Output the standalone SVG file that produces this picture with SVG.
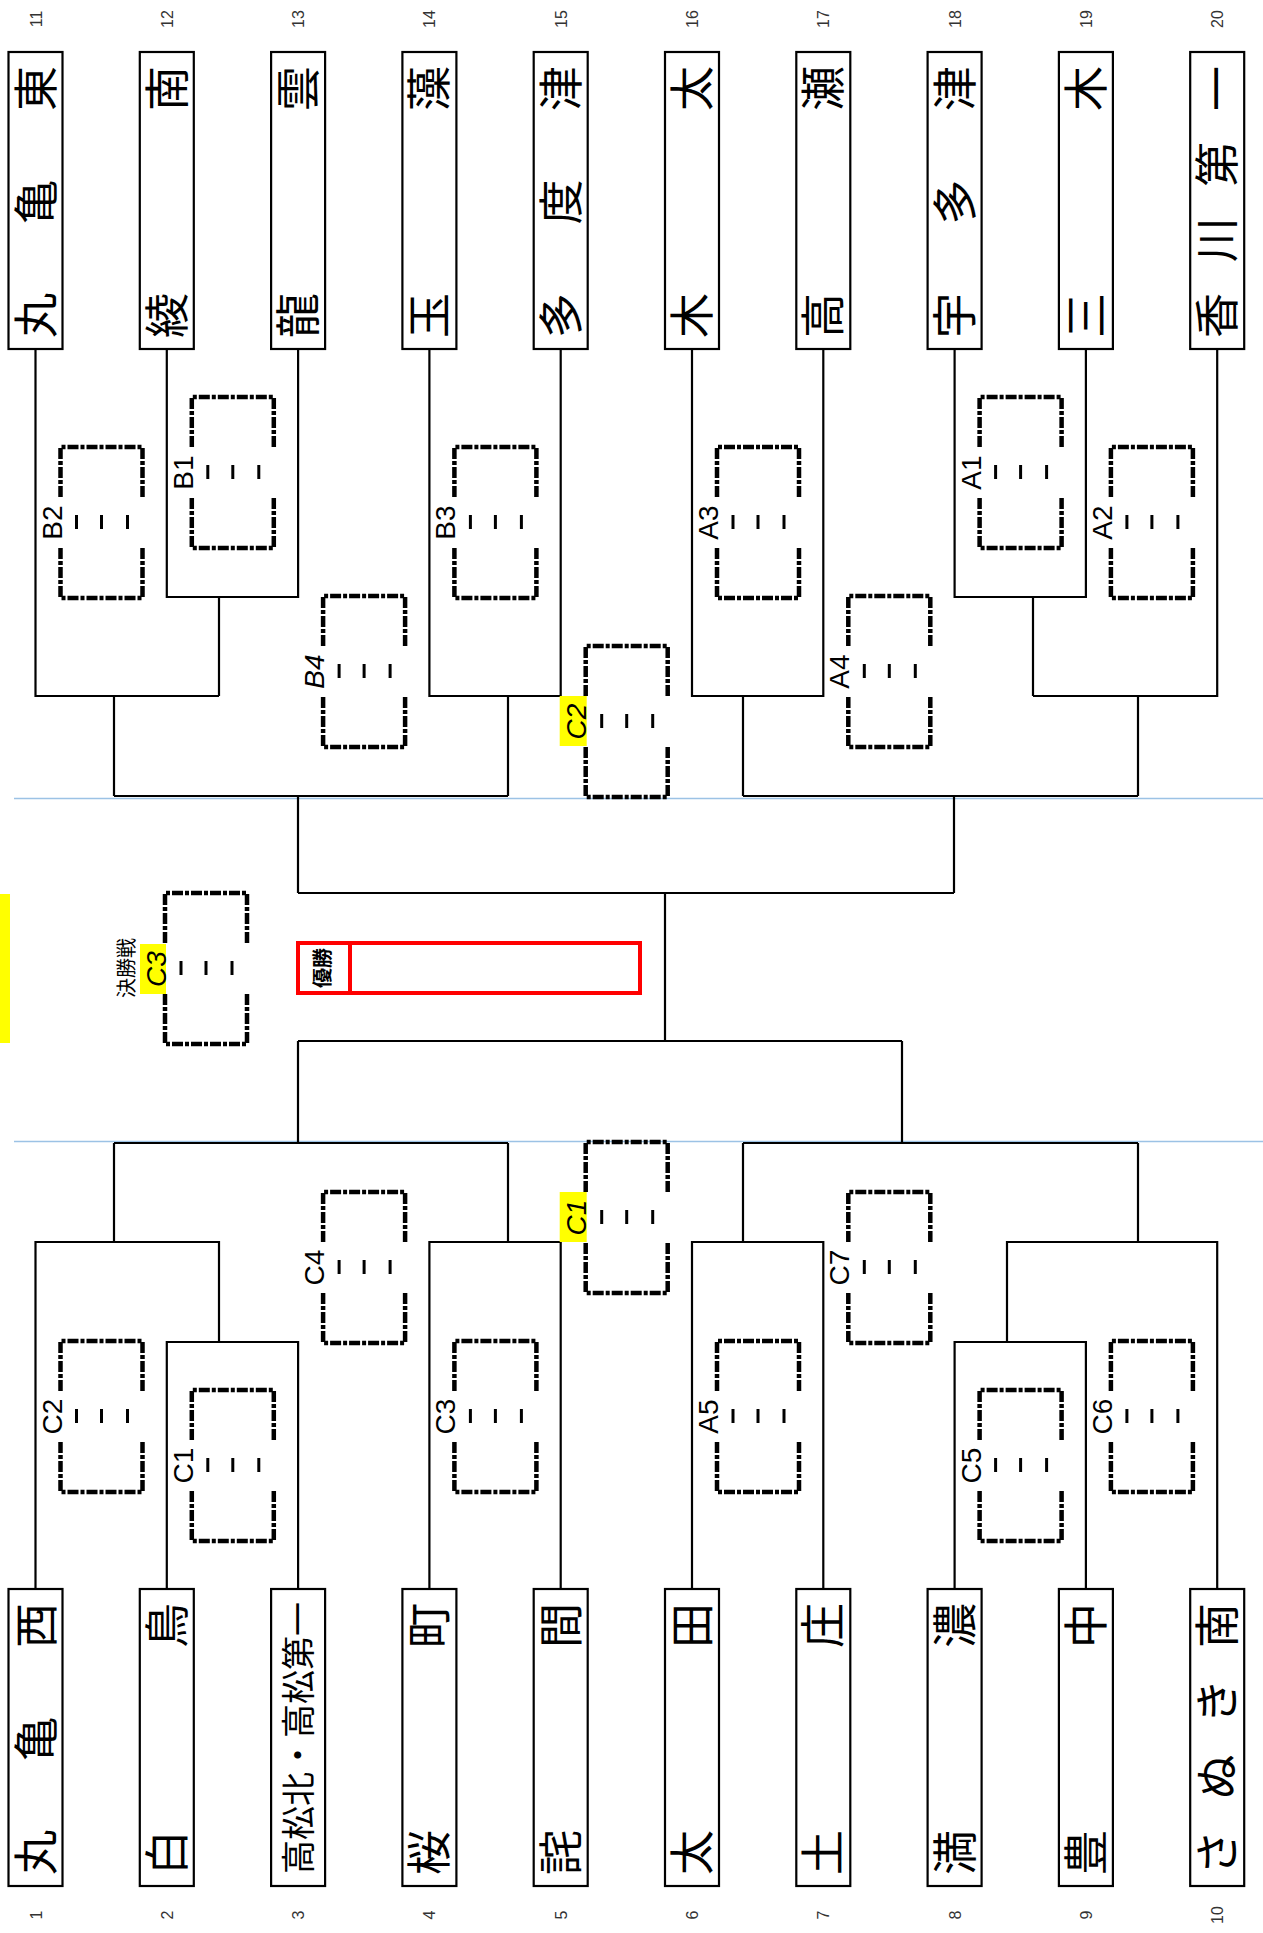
<svg xmlns="http://www.w3.org/2000/svg" width="1263" height="1933" viewBox="0 0 1263 1933">
<style>
.bg{fill:#fff}
.box{fill:#fff;stroke:#000;stroke-width:2.2}
.ln{fill:none;stroke:#000;stroke-width:2.2}
.blue{fill:none;stroke:#9cc2e5;stroke-width:1.5}
.dash{fill:none;stroke:#000;stroke-width:4.5;stroke-dasharray:11 2 4 2}
.tick{stroke:#000;stroke-width:3}
.name{font-family:"Noto Sans CJK JP","Noto Sans CJK SC",sans-serif;font-size:45px;fill:#000}
.name2{font-family:"Noto Sans CJK JP","Noto Sans CJK SC",sans-serif;font-size:34px;fill:#000}
.num{font-family:"Liberation Sans",Arial,sans-serif;font-size:16px;fill:#333;text-anchor:middle}
.lbl{font-family:"Liberation Sans",Arial,sans-serif;font-size:28px;fill:#000;text-anchor:middle}
.it{font-style:italic}
.yel{fill:#ffff00}
.red{fill:none;stroke:#ff0000;stroke-width:4}
.jp{font-family:"Noto Sans CJK JP","Noto Sans CJK SC",sans-serif;fill:#000;text-anchor:middle}
</style>
<defs>
<g id="mbox">
<path class="dash" d="M0,50 V0 H82 V50 M0,101 V151 H82 V101"/>
<line class="tick" x1="16" y1="68" x2="16" y2="82"/>
<line class="tick" x1="41" y1="68" x2="41" y2="82"/>
<line class="tick" x1="67" y1="68" x2="67" y2="82"/>
</g>
</defs>
<rect class="bg" x="0" y="0" width="1263" height="1933"/>

<g id="guides">
<line class="blue" x1="14" y1="798.5" x2="1263" y2="798.5"/>
<line class="blue" x1="14" y1="1141.5" x2="1263" y2="1141.5"/>
<rect class="yel" x="0" y="894" width="10" height="149"/>
</g>

<g id="connectors">
<path class="ln" d="M166.8,349 V597 H298.1 V349 M219,597 V696"/>
<path class="ln" d="M35.5,349 V696 H219 M114,696 V796"/>
<path class="ln" d="M429.4,349 V696 H560.7 V349 M508,696 V796"/>
<path class="ln" d="M114,796 H508 M298,796 V893"/>
<path class="ln" d="M692,349 V696 H823.3 V349 M743,696 V796"/>
<path class="ln" d="M954.6,349 V597 H1085.9 V349 M1033,597 V696"/>
<path class="ln" d="M1217.2,349 V696 H1033 M1138,696 V796"/>
<path class="ln" d="M743,796 H1138 M954,796 V893"/>
<path class="ln" d="M298,893 H954 M665,893 V1041"/>
<path class="ln" d="M298,1041 H902 M298,1041 V1143 M902,1041 V1143"/>
<path class="ln" d="M114,1143 H508 M114,1143 V1242 M508,1143 V1242"/>
<path class="ln" d="M35.5,1589 V1242 H219 V1342 M166.8,1589 V1342 H298.1 V1589"/>
<path class="ln" d="M429.4,1589 V1242 H560.7 V1589"/>
<path class="ln" d="M743,1143 H1138 M743,1143 V1242 M1138,1143 V1242"/>
<path class="ln" d="M692,1589 V1242 H823.3 V1589"/>
<path class="ln" d="M1217.2,1589 V1242 H1007 V1342 M954.6,1589 V1342 H1085.9 V1589"/>
</g>

<!-- top teams 11-20 -->
<g id="t11"><rect class="box" x="8.5" y="52" width="54" height="297"/><text class="name" transform="translate(52.5,349) rotate(-90)" x="11 124.5 238">丸亀東</text><text class="num" transform="translate(41.5,19) rotate(-90)">11</text></g>
<g id="t12"><rect class="box" x="139.8" y="52" width="54" height="297"/><text class="name" transform="translate(183.8,349) rotate(-90)" x="11 238">綾南</text><text class="num" transform="translate(172.8,19) rotate(-90)">12</text></g>
<g id="t13"><rect class="box" x="271.1" y="52" width="54" height="297"/><text class="name" transform="translate(315.1,349) rotate(-90)" x="11 238">龍雲</text><text class="num" transform="translate(304.1,19) rotate(-90)">13</text></g>
<g id="t14"><rect class="box" x="402.4" y="52" width="54" height="297"/><text class="name" transform="translate(446.4,349) rotate(-90)" x="11 238">玉藻</text><text class="num" transform="translate(435.4,19) rotate(-90)">14</text></g>
<g id="t15"><rect class="box" x="533.7" y="52" width="54" height="297"/><text class="name" transform="translate(577.7,349) rotate(-90)" x="11 124.5 238">多度津</text><text class="num" transform="translate(566.7,19) rotate(-90)">15</text></g>
<g id="t16"><rect class="box" x="665" y="52" width="54" height="297"/><text class="name" transform="translate(709,349) rotate(-90)" x="11 238">木太</text><text class="num" transform="translate(698,19) rotate(-90)">16</text></g>
<g id="t17"><rect class="box" x="796.3" y="52" width="54" height="297"/><text class="name" transform="translate(840.3,349) rotate(-90)" x="11 238">高瀬</text><text class="num" transform="translate(829.3,19) rotate(-90)">17</text></g>
<g id="t18"><rect class="box" x="927.6" y="52" width="54" height="297"/><text class="name" transform="translate(971.6,349) rotate(-90)" x="11 124.5 238">宇多津</text><text class="num" transform="translate(960.6,19) rotate(-90)">18</text></g>
<g id="t19"><rect class="box" x="1058.9" y="52" width="54" height="297"/><text class="name" transform="translate(1102.9,349) rotate(-90)" x="11 238">三木</text><text class="num" transform="translate(1091.9,19) rotate(-90)">19</text></g>
<g id="t20"><rect class="box" x="1190.2" y="52" width="54" height="297"/><text class="name" transform="translate(1234.2,349) rotate(-90)" x="11 86.7 162.3 238">香川第一</text><text class="num" transform="translate(1223.2,19) rotate(-90)">20</text></g>

<!-- bottom teams 1-10 -->
<g id="t1"><rect class="box" x="8.5" y="1589" width="54" height="297"/><text class="name" transform="translate(52.5,1886) rotate(-90)" x="11 124.5 238">丸亀西</text><text class="num" transform="translate(41.5,1915) rotate(-90)">1</text></g>
<g id="t2"><rect class="box" x="139.8" y="1589" width="54" height="297"/><text class="name" transform="translate(183.8,1886) rotate(-90)" x="11 238">白鳥</text><text class="num" transform="translate(172.8,1915) rotate(-90)">2</text></g>
<g id="t3"><rect class="box" x="271.1" y="1589" width="54" height="297"/><text class="name2" transform="translate(311,1886) rotate(-90)" x="12">高松北・高松第一</text><text class="num" transform="translate(304.1,1915) rotate(-90)">3</text></g>
<g id="t4"><rect class="box" x="402.4" y="1589" width="54" height="297"/><text class="name" transform="translate(446.4,1886) rotate(-90)" x="11 238">桜町</text><text class="num" transform="translate(435.4,1915) rotate(-90)">4</text></g>
<g id="t5"><rect class="box" x="533.7" y="1589" width="54" height="297"/><text class="name" transform="translate(577.7,1886) rotate(-90)" x="11 238">詫間</text><text class="num" transform="translate(566.7,1915) rotate(-90)">5</text></g>
<g id="t6"><rect class="box" x="665" y="1589" width="54" height="297"/><text class="name" transform="translate(709,1886) rotate(-90)" x="11 238">太田</text><text class="num" transform="translate(698,1915) rotate(-90)">6</text></g>
<g id="t7"><rect class="box" x="796.3" y="1589" width="54" height="297"/><text class="name" transform="translate(840.3,1886) rotate(-90)" x="11 238">土庄</text><text class="num" transform="translate(829.3,1915) rotate(-90)">7</text></g>
<g id="t8"><rect class="box" x="927.6" y="1589" width="54" height="297"/><text class="name" transform="translate(971.6,1886) rotate(-90)" x="11 238">満濃</text><text class="num" transform="translate(960.6,1915) rotate(-90)">8</text></g>
<g id="t9"><rect class="box" x="1058.9" y="1589" width="54" height="297"/><text class="name" transform="translate(1102.9,1886) rotate(-90)" x="11 238">豊中</text><text class="num" transform="translate(1091.9,1915) rotate(-90)">9</text></g>
<g id="t10"><rect class="box" x="1190.2" y="1589" width="54" height="297"/><text class="name" transform="translate(1234.2,1886) rotate(-90)" x="11 86.7 162.3 238">さぬき南</text><text class="num" transform="translate(1223.2,1915) rotate(-90)">10</text></g>

<!-- match boxes top -->
<g id="mB2"><use href="#mbox" x="60.5" y="447"/><text class="lbl" transform="translate(61.5,522.5) rotate(-90)">B2</text></g>
<g id="mB1"><use href="#mbox" x="191.8" y="397"/><text class="lbl" transform="translate(192.8,472.5) rotate(-90)">B1</text></g>
<g id="mB4"><use href="#mbox" x="323.1" y="596"/><text class="lbl it" transform="translate(324.1,671.5) rotate(-90)">B4</text></g>
<g id="mB3"><use href="#mbox" x="454.4" y="447"/><text class="lbl" transform="translate(455.4,522.5) rotate(-90)">B3</text></g>
<g id="mC2t"><use href="#mbox" x="585.7" y="646"/><rect class="yel" x="559.7" y="696" width="27" height="50"/><text class="lbl it" transform="translate(586.2,721.5) rotate(-90)">C2</text></g>
<g id="mA3"><use href="#mbox" x="717" y="447"/><text class="lbl" transform="translate(718,522.5) rotate(-90)">A3</text></g>
<g id="mA4"><use href="#mbox" x="848.3" y="596"/><text class="lbl" transform="translate(849.3,671.5) rotate(-90)">A4</text></g>
<g id="mA1"><use href="#mbox" x="979.6" y="397"/><text class="lbl" transform="translate(980.6,472.5) rotate(-90)">A1</text></g>
<g id="mA2"><use href="#mbox" x="1110.9" y="447"/><text class="lbl" transform="translate(1111.9,522.5) rotate(-90)">A2</text></g>

<!-- match boxes bottom -->
<g id="mC2b"><use href="#mbox" x="60.5" y="1341"/><text class="lbl" transform="translate(61.5,1416.5) rotate(-90)">C2</text></g>
<g id="mC1b"><use href="#mbox" x="191.8" y="1390"/><text class="lbl" transform="translate(192.8,1465.5) rotate(-90)">C1</text></g>
<g id="mC4"><use href="#mbox" x="323.1" y="1192"/><text class="lbl" transform="translate(324.1,1267.5) rotate(-90)">C4</text></g>
<g id="mC3b"><use href="#mbox" x="454.4" y="1341"/><text class="lbl" transform="translate(455.4,1416.5) rotate(-90)">C3</text></g>
<g id="mC1y"><use href="#mbox" x="585.7" y="1142"/><rect class="yel" x="559.7" y="1192" width="27" height="50"/><text class="lbl it" transform="translate(586.2,1217.5) rotate(-90)">C1</text></g>
<g id="mA5"><use href="#mbox" x="717" y="1341"/><text class="lbl" transform="translate(718,1416.5) rotate(-90)">A5</text></g>
<g id="mC7"><use href="#mbox" x="848.3" y="1192"/><text class="lbl" transform="translate(849.3,1267.5) rotate(-90)">C7</text></g>
<g id="mC5"><use href="#mbox" x="979.6" y="1390"/><text class="lbl" transform="translate(980.6,1465.5) rotate(-90)">C5</text></g>
<g id="mC6"><use href="#mbox" x="1110.9" y="1341"/><text class="lbl" transform="translate(1111.9,1416.5) rotate(-90)">C6</text></g>

<!-- final -->
<g id="final"><use href="#mbox" x="165" y="893"/><rect class="yel" x="140" y="944" width="26" height="50"/><text class="lbl it" transform="translate(166,969) rotate(-90)">C3</text><text class="jp" font-size="20" transform="translate(134,968) rotate(-90)">決勝戦</text></g>
<g id="winner"><rect class="red" x="298" y="943" width="342" height="50"/><line class="red" x1="350" y1="943" x2="350" y2="993"/><text class="jp" font-size="20" font-weight="bold" transform="translate(330,968) rotate(-90)">優勝</text></g>
</svg>
